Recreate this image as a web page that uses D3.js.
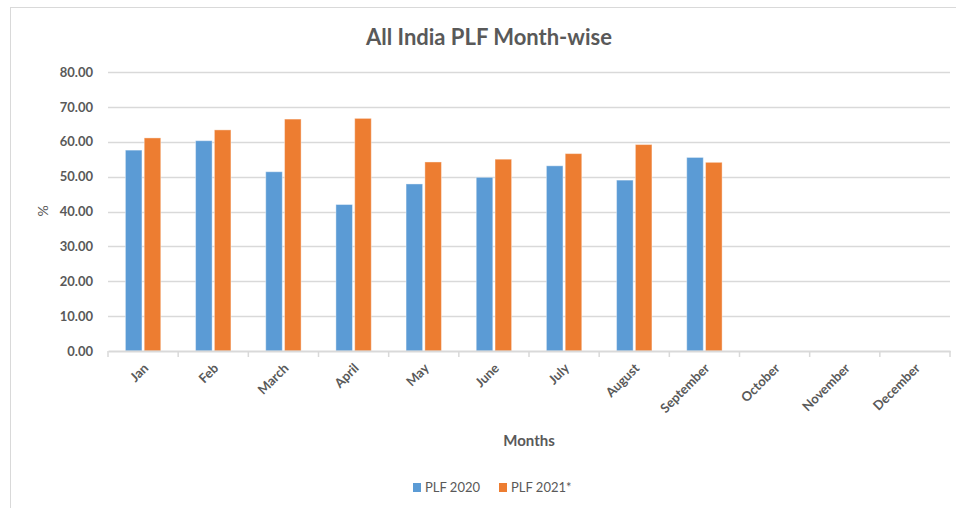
<!DOCTYPE html>
<html lang='en'>
<head>
    <meta charset='utf-8'>
    <title>All India PLF Month-wise</title>
    <script src="https://d3js.org/d3.v7.min.js"></script>
    <style>
        body { margin: 0; background: white; }
        text { font-family: Lato, "Open Sans", sans-serif; fill: #595959; }
    </style>
</head>
<body>
    <div id='chart'></div>
    <script>
        const months = ["Jan","Feb","March","April","May","June","July","August","September","October","November","December"];
        const plf2020 = [57.6, 60.3, 51.4, 42.0, 47.9, 49.8, 53.1, 49.0, 55.5, null, null, null];
        const plf2021 = [61.1, 63.4, 66.5, 66.7, 54.2, 55.0, 56.6, 59.2, 54.1, null, null, null];
        const yTicks = [0, 10, 20, 30, 40, 50, 60, 70, 80];
        const seriesNames = ["PLF 2020", "PLF 2021*"];
        const colors = ["#5B9BD5", "#ED7D31"];

        let margin = {top: 72, right: 6, bottom: 157, left: 108}
        let size = {
            width: 956,
            height: 508,
            margined_width: 956 - margin.left - margin.right,
            margined_height: 508 - margin.top - margin.bottom
        }

        let root = d3.select("#chart")
                    .append("svg")
                        .attr("width", size.width)
                        .attr("height", size.height);

        // outer chart border
        root.append("rect")
            .attr("x", 10.5).attr("y", 7.5)
            .attr("width", 960).attr("height", 520)
            .attr("fill", "none")
            .attr("stroke", "#d9d9d9");

        root.append("text")
            .attr("x", 489).attr("y", 45)
            .style("text-anchor", "middle")
            .style("font-size", "22px")
            .style("font-weight", "bold")
            .text("All India PLF Month-wise");

        let svg = root.append("g")
                    .attr("transform", `translate(${margin.left},${margin.top})`);

        let x = d3.scaleBand()
            .domain(months)
            .range([0, size.margined_width])
            .paddingInner(0).paddingOuter(0);

        let x1 = d3.scaleBand()
            .domain(seriesNames)
            .range([17.4, x.bandwidth() - 17.4])
            .paddingInner(0.12);

        let y = d3.scaleLinear()
            .domain([0, 80])
            .range([size.margined_height, 0]);

        // gridlines
        svg.append("g")
            .selectAll("line")
            .data(yTicks.filter(d => d > 0))
            .enter()
            .append("line")
                .attr("x1", 0).attr("x2", size.margined_width)
                .attr("y1", d => Math.round(y(d)) + 0.5)
                .attr("y2", d => Math.round(y(d)) + 0.5)
                .attr("stroke", "#d9d9d9")
                .attr("stroke-width", 1.5);

        // y axis labels
        let yAxis = svg.append("g")
            .call(d3.axisLeft(y).tickValues(yTicks).tickFormat(d3.format(".2f")).tickSize(0).tickPadding(15));
        yAxis.select(".domain").remove();
        yAxis.selectAll("text")
            .style("font-size", "13px")
            .style("font-weight", "bold")
            .style("fill", "#595959")
            .style("font-family", "Lato, sans-serif");

        // bars
        let table = months.map((m, i) => ({month: m, values: [plf2020[i], plf2021[i]]}));
        let groups = svg.append("g")
            .selectAll("g")
            .data(table)
            .enter()
            .append("g")
                .attr("transform", d => `translate(${x(d.month)},0)`);

        groups.selectAll("rect")
            .data(d => d.values.map((v, k) => ({name: seriesNames[k], value: v, k: k})).filter(e => e.value != null))
            .enter()
            .append("rect")
                .attr("x", d => x1(d.name))
                .attr("y", d => y(d.value))
                .attr("width", x1.bandwidth())
                .attr("height", d => size.margined_height - y(d.value))
                .attr("fill", d => colors[d.k])
                .attr("stroke", "white")
                .attr("stroke-opacity", 0.4)
                .attr("stroke-width", 1);

        // x axis
        let xAxis = svg.append("g")
            .attr("transform", `translate(0,${size.margined_height})`)
            .call(d3.axisBottom(x).tickSize(0).tickFormat(""));
        xAxis.select(".domain")
            .attr("stroke", "#d9d9d9")
            .attr("stroke-width", 2);

        svg.append("g")
            .selectAll("line")
            .data(d3.range(months.length + 1))
            .enter()
            .append("line")
                .attr("x1", i => i * x.bandwidth()).attr("x2", i => i * x.bandwidth())
                .attr("y1", size.margined_height).attr("y2", size.margined_height + 6)
                .attr("stroke", "#d9d9d9")
                .attr("stroke-width", 1.5);

        svg.append("g")
            .selectAll("text")
            .data(months)
            .enter()
            .append("text")
                .attr("transform", d => `translate(${x(d) + x.bandwidth() / 2 + 6},${size.margined_height + 18}) rotate(-45)`)
                .style("text-anchor", "end")
                .style("font-size", "13px")
                .style("font-weight", "bold")
                .text(d => d);

        svg.append("text")
            .attr("x", size.margined_width / 2)
            .attr("y", 446 - margin.top)
            .style("text-anchor", "middle")
            .style("font-size", "15px")
            .style("font-weight", "bold")
            .text("Months");

        svg.append("text")
            .attr("transform", `translate(${48 - margin.left},${211 - margin.top}) rotate(-90)`)
            .style("text-anchor", "middle")
            .style("font-size", "14px")
            .text("%");

        // legend
        let legendX = [413, 499];
        seriesNames.forEach((name, i) => {
            root.append("rect")
                .attr("x", legendX[i]).attr("y", 483)
                .attr("width", 8).attr("height", 9)
                .attr("fill", colors[i]);
            root.append("text")
                .attr("x", legendX[i] + 12).attr("y", 492)
                .style("font-size", "13px")
                .text(name);
        });
    </script>
</body>
</html>
